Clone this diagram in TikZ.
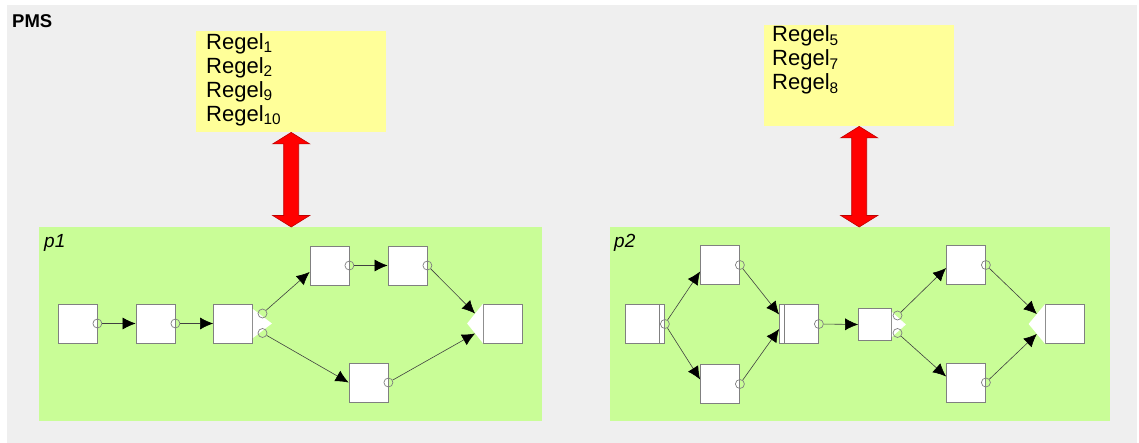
\documentclass[tikz,border=0pt]{standalone}
\usepackage{fontspec}
\setmainfont{Liberation Sans}
\usetikzlibrary{arrows.meta,calc}

\definecolor{panelgray}{HTML}{EFEFEF}
\definecolor{lanegreen}{HTML}{C9FD97}
\definecolor{rulesyellow}{HTML}{FFFF99}
\definecolor{boxedge}{HTML}{808080}
\definecolor{linkred}{HTML}{FF0000}

\begin{document}
\begin{tikzpicture}[x=1pt,y=-1pt,
  lane/.style={fill=lanegreen, anchor=north west, inner sep=0pt, minimum height=194pt},
  lanelabel/.style={anchor=north west, inner sep=0pt, font=\fontsize{19}{22}\selectfont\itshape},
  rulebox/.style={fill=rulesyellow, anchor=north west, inner sep=0pt, minimum width=190pt, minimum height=101pt},
  ruletext/.style={anchor=north west, inner sep=0pt, align=left, font=\fontsize{22}{24}\selectfont},
  procbox/.style={draw=boxedge, fill=white, line width=0.8pt, minimum width=39pt, minimum height=39pt, inner sep=0pt},
  smallbox/.style={procbox, minimum width=33pt, minimum height=32pt},
  port/.style={draw=boxedge, circle, minimum size=9pt, inner sep=0pt, line width=0.7pt},
  conn/.style={draw=black!75, line width=0.6pt, -{Latex[length=13pt,width=12pt,color=black]}},
  notch/.style={fill=white},
  bigarrow/.style={fill=linkred, draw=linkred!75!black, line width=0.6pt, line join=miter}
]
\useasboundingbox (0,0) rectangle (1139,443);

% background sheet
\fill[panelgray] (7,5) rectangle (1137,443);
\node[anchor=base west, inner sep=0pt, font=\fontsize{18.5}{20}\selectfont\bfseries] (pms) at (12,28) {PMS};

% rule sets
\node[rulebox] (r1) at (196,31) {};
\node[ruletext] (r1t) at (206,33) {Regel\textsubscript{1}\\Regel\textsubscript{2}\\Regel\textsubscript{9}\\Regel\textsubscript{10}};
\node[rulebox] (r2) at (764,25) {};
\node[ruletext] (r2t) at (772,25.5) {Regel\textsubscript{5}\\Regel\textsubscript{7}\\Regel\textsubscript{8}};

% process lanes
\node[lane, minimum width=503pt] (p1) at (39,227) {};
\node[lanelabel] (p1lab) at (44,234) {p1};
\node[lane, minimum width=500pt] (p2) at (610,227) {};
\node[lanelabel] (p2lab) at (614,234) {p2};

% double arrows between rule sets and lanes
\coordinate (a1t) at (r1.south);
\coordinate (a1b) at (r1.south |- p1.north);
\coordinate (a2t) at (r2.south);
\coordinate (a2b) at (r2.south |- p2.north);
\foreach \t/\b in {a1t/a1b, a2t/a2b}{
  \filldraw[bigarrow] (\t) -- ++(18.5,11.5) -- ++(-11,0) -- ($(\b)+(7.5,-11.5)$) -- ++(11,0)
    -- (\b) -- ++(-18.5,-11.5) -- ++(11,0) -- ($(\t)+(-7.5,11.5)$) -- ++(-11,0) -- cycle;
}

% ---------- lane p1 ----------
\node[procbox] (b1) at (77.5,323.5) {};
\node[procbox] (b2) at (155.5,323.5) {};
\node[procbox] (b3) at (233,323.5) {};
\node[procbox] (b4) at (329.5,265.5) {};
\node[procbox] (b5) at (407.5,265.5) {};
\node[procbox] (b6) at (368.5,382.5) {};
\node[procbox] (b7) at (503,323.5) {};

% split on b3, join notch on b7
\coordinate (b3tip) at ($(b3.east)+(19,0)$);
\fill[notch] ($(b3.east)+(0,-14.5)$) -- (b3tip) -- ($(b3.east)+(0,14.5)$) -- cycle;
\coordinate (b7tip) at ($(b7.west)+(-16,0)$);
\fill[notch] (b7.north west) -- (b7tip) -- (b7.south west) -- cycle;
\coordinate (b7in1) at ($(b7.north west)!0.5!(b7tip)$);
\coordinate (b7in2) at ($(b7.south west)!0.5!(b7tip)$);

\node[port] (b1o) at (b1.east) {};
\node[port] (b2o) at (b2.east) {};
\node[port] (b3u) at (262.5,313.5) {};
\node[port] (b3d) at (262.5,333) {};
\node[port] (b4o) at (b4.east) {};
\node[port] (b5o) at (b5.east) {};
\node[port] (b6o) at (b6.east) {};

\draw[conn] (b1o) -- (b2.west);
\draw[conn] (b2o) -- (b3.west);
\draw[conn] (b3u) -- ($(b4.west)+(0,6.5)$);
\draw[conn] (b3d) -- (b6.west);
\draw[conn] (b4o) -- (b5.west);
\draw[conn] (b5o) -- (b7in1);
\draw[conn] (b6o) -- (b7in2);

% ---------- lane p2 ----------
\node[procbox] (c1) at (645,324) {};
\node[procbox] (c2) at (720,265) {};
\node[procbox] (c3) at (720,384) {};
\node[procbox] (c4) at (799,324) {};
\node[smallbox] (c5) at (875,324.5) {};
\node[procbox] (c6) at (966,265) {};
\node[procbox] (c7) at (966,382.5) {};
\node[procbox] (c8) at (1065,324) {};

% parallel split / join bars
\draw[boxedge, line width=0.8pt] ($(c1.north east)+(-5.5,0)$) -- ($(c1.south east)+(-5.5,0)$);
\draw[boxedge, line width=0.8pt] ($(c4.north west)+(5.7,0)$) -- ($(c4.south west)+(5.7,0)$);

% split on c5, join notch on c8
\coordinate (c5tip) at ($(c5.east)+(14,0)$);
\fill[notch] ($(c5.east)+(0,-12.5)$) -- (c5tip) -- ($(c5.east)+(0,12.5)$) -- cycle;
\coordinate (c8tip) at ($(c8.west)+(-16.5,0)$);
\fill[notch] (c8.north west) -- (c8tip) -- (c8.south west) -- cycle;
\coordinate (c8in1) at ($(c8.north west)!0.5!(c8tip)$);
\coordinate (c8in2) at ($(c8.south west)!0.5!(c8tip)$);

\node[port] (c1o) at (c1.east) {};
\node[port] (c2o) at (c2.east) {};
\node[port] (c3o) at (c3.east) {};
\node[port] (c4o) at (c4.east) {};
\node[port] (c5u) at (897.5,315.5) {};
\node[port] (c5d) at (897.5,333) {};
\node[port] (c6o) at (c6.east) {};
\node[port] (c7o) at (c7.east) {};

\draw[conn] (c1o) -- ($(c2.west)+(0,6.5)$);
\draw[conn] (c1o) -- ($(c3.west)+(0,-4.5)$);
\draw[conn] (c2o) -- ($(c4.west)+(0,-9.5)$);
\draw[conn] (c3o) -- ($(c4.west)+(0,5)$);
\draw[conn] (c4o) -- (c5.west);
\draw[conn] (c5u) -- ($(c6.west)+(0,3)$);
\draw[conn] (c5d) -- ($(c7.west)+(0,-6)$);
\draw[conn] (c6o) -- (c8in1);
\draw[conn] (c7o) -- (c8in2);
\end{tikzpicture}
\end{document}
